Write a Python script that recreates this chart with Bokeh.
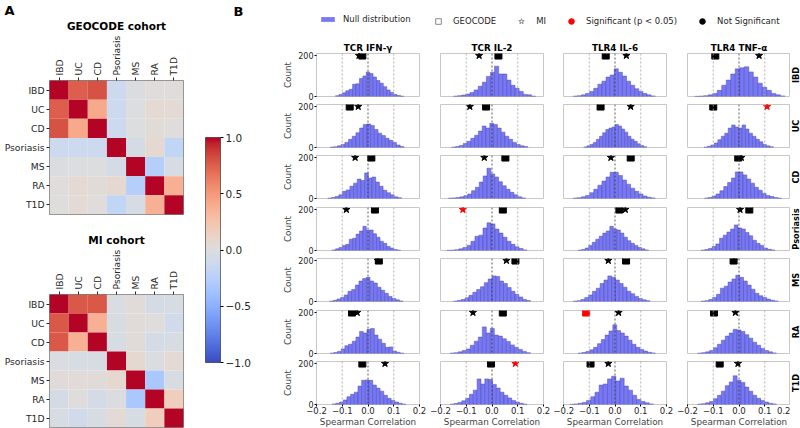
import math
import numpy as np
from bokeh.plotting import figure
from bokeh.layouts import row, column
from bokeh.models import (FactorRange, Range1d, LinearColorMapper, FixedTicker, Span, Label,
                          Legend, LegendItem, ColumnDataSource, Title)
from bokeh.embed import file_html
from bokeh.resources import INLINE

FONT = "DejaVu Sans"
INK = "#262626"

# ---------------------------------------------------------------- data
diseases = ["IBD", "UC", "CD", "Psoriasis", "MS", "RA", "T1D"]
stimuli = ["TCR IFN-γ", "TCR IL-2", "TLR4 IL-6", "TLR4 TNF-α"]

# genetic correlation between diseases, per cohort
geocode_corr = [
    [1.00, 0.75, 0.80, -0.12, -0.02, 0.01, 0.00],
    [0.75, 1.00, 0.42, -0.12, -0.01, 0.05, 0.04],
    [0.80, 0.42, 1.00, -0.12, -0.01, 0.03, 0.01],
    [-0.12, -0.12, -0.12, 1.00, -0.06, 0.07, -0.19],
    [-0.02, -0.01, -0.01, -0.06, 1.00, -0.27, -0.05],
    [0.01, 0.05, 0.03, 0.07, -0.27, 1.00, 0.38],
    [0.00, 0.04, 0.01, -0.19, -0.05, 0.38, 1.00],
]
mi_corr = [
    [1.00, 0.78, 0.78, -0.03, 0.02, -0.06, -0.04],
    [0.78, 1.00, 0.38, -0.04, 0.02, 0.00, -0.09],
    [0.78, 0.38, 1.00, -0.04, 0.02, -0.07, -0.04],
    [-0.03, -0.04, -0.04, 1.00, 0.07, -0.02, 0.04],
    [0.02, 0.02, 0.02, 0.07, 1.00, -0.33, -0.04],
    [-0.06, 0.00, -0.07, -0.02, -0.33, 1.00, 0.17],
    [-0.04, -0.09, -0.04, 0.04, -0.04, 0.17, 1.00],
]

# permutation null distributions: 20-bin counts and (low, high) bin range, one per disease
null_counts_tcr_ifng = [
    [4, 10, 18, 28, 35, 60, 62, 88, 100, 120, 112, 95, 78, 65, 48, 32, 20, 10, 5, 2],
    [2, 4, 8, 15, 25, 40, 55, 72, 95, 112, 115, 108, 88, 70, 58, 45, 35, 25, 12, 5],
    [2, 5, 10, 18, 35, 42, 60, 75, 95, 88, 125, 100, 105, 80, 60, 40, 28, 18, 8, 4],
    [3, 8, 15, 25, 30, 55, 60, 80, 95, 118, 100, 100, 82, 65, 45, 35, 20, 12, 5, 2],
    [2, 6, 12, 20, 32, 50, 58, 80, 100, 112, 118, 100, 90, 70, 55, 40, 25, 15, 8, 3],
    [2, 5, 10, 22, 38, 45, 60, 80, 108, 100, 118, 122, 90, 70, 50, 30, 32, 12, 6, 2],
    [3, 6, 12, 22, 38, 50, 60, 90, 118, 120, 118, 95, 80, 65, 45, 30, 20, 12, 6, 2],
]
null_range_tcr_ifng = [(-0.126, 0.139), (-0.147, 0.139), (-0.156, 0.130), (-0.139, 0.126),
                       (-0.149, 0.136), (-0.147, 0.139), (-0.139, 0.147)]

null_counts_tcr_il2 = [
    [2, 4, 7, 12, 20, 32, 50, 70, 98, 118, 148, 110, 110, 80, 55, 40, 25, 10, 8, 2],
    [2, 5, 10, 20, 30, 45, 60, 80, 105, 95, 118, 112, 95, 75, 55, 40, 25, 15, 8, 5],
    [2, 3, 5, 8, 14, 22, 38, 55, 80, 110, 148, 120, 105, 82, 62, 45, 30, 18, 8, 3],
    [1, 2, 4, 8, 15, 25, 45, 70, 75, 110, 135, 130, 105, 85, 65, 45, 30, 18, 10, 3],
    [2, 5, 10, 18, 30, 45, 58, 72, 92, 110, 125, 122, 100, 88, 68, 50, 35, 22, 10, 5],
    [2, 4, 8, 15, 22, 40, 60, 80, 130, 100, 122, 90, 85, 72, 58, 42, 30, 20, 10, 4],
    [2, 5, 10, 18, 30, 50, 70, 125, 100, 125, 122, 98, 80, 60, 45, 32, 20, 12, 6, 2],
]
null_range_tcr_il2 = [(-0.149, 0.169), (-0.156, 0.139), (-0.169, 0.130), (-0.175, 0.136),
                      (-0.149, 0.149), (-0.162, 0.149), (-0.162, 0.136)]

null_counts_tlr4_il6 = [
    [2, 4, 8, 15, 25, 40, 60, 75, 95, 105, 135, 118, 100, 75, 55, 38, 25, 15, 8, 3],
    [3, 8, 15, 25, 40, 55, 72, 88, 95, 100, 112, 105, 90, 75, 55, 40, 30, 18, 10, 4],
    [2, 4, 8, 15, 28, 45, 65, 85, 105, 128, 128, 112, 90, 70, 50, 35, 22, 12, 6, 3],
    [2, 5, 12, 25, 40, 55, 70, 85, 95, 118, 105, 100, 85, 65, 48, 35, 25, 15, 8, 3],
    [2, 4, 10, 20, 32, 50, 65, 88, 105, 125, 118, 105, 88, 70, 50, 38, 25, 15, 8, 4],
    [2, 5, 10, 18, 30, 48, 68, 90, 110, 140, 112, 100, 85, 65, 45, 30, 20, 12, 6, 3],
    [1, 3, 6, 10, 20, 38, 60, 95, 100, 125, 138, 115, 128, 90, 70, 45, 25, 15, 8, 3],
]
null_range_tlr4_il6 = [(-0.162, 0.156), (-0.121, 0.123), (-0.162, 0.156), (-0.143, 0.130),
                       (-0.162, 0.136), (-0.143, 0.156), (-0.175, 0.149)]

null_counts_tlr4_tnfa = [
    [1, 2, 4, 8, 15, 30, 55, 80, 110, 135, 140, 145, 120, 95, 65, 45, 30, 15, 8, 3],
    [2, 6, 12, 22, 38, 55, 70, 95, 110, 100, 95, 110, 90, 70, 55, 40, 28, 15, 8, 4],
    [2, 5, 12, 22, 38, 58, 78, 100, 130, 130, 115, 95, 75, 55, 40, 25, 15, 10, 5, 2],
    [2, 5, 10, 20, 32, 60, 75, 90, 105, 125, 110, 105, 88, 72, 50, 35, 25, 12, 6, 3],
    [2, 4, 10, 20, 35, 65, 75, 95, 110, 128, 118, 100, 80, 60, 40, 28, 20, 12, 6, 3],
    [2, 4, 8, 15, 28, 45, 65, 85, 100, 118, 115, 108, 92, 75, 55, 40, 25, 15, 8, 3],
    [2, 4, 8, 15, 28, 45, 65, 92, 110, 140, 118, 108, 85, 65, 45, 30, 20, 12, 6, 3],
]
null_range_tlr4_tnfa = [(-0.172, 0.178), (-0.136, 0.133), (-0.134, 0.165), (-0.147, 0.139),
                        (-0.147, 0.152), (-0.160, 0.145), (-0.160, 0.145)]

# observed Spearman correlations per cohort, and p < 0.05 flags
geocode_rho_tcr_ifng = [-0.022, -0.071, 0.013, 0.027, 0.042, -0.062, -0.022]
mi_rho_tcr_ifng = [-0.035, -0.038, -0.050, -0.084, 0.038, -0.042, 0.066]
geocode_sig_tcr_ifng = [False] * 7
mi_sig_tcr_ifng = [False] * 7

geocode_rho_tcr_il2 = [0.025, -0.023, 0.052, 0.042, 0.091, 0.042, -0.004]
mi_rho_tcr_il2 = [-0.050, -0.086, -0.030, -0.113, 0.056, -0.074, 0.091]
geocode_sig_tcr_il2 = [False] * 7
mi_sig_tcr_il2 = [False, False, False, True, False, False, True]

geocode_rho_tlr4_il6 = [-0.036, -0.056, 0.061, 0.017, 0.043, -0.112, -0.095]
mi_rho_tlr4_il6 = [0.044, 0.061, -0.016, 0.040, -0.026, 0.014, -0.026]
geocode_sig_tlr4_il6 = [False, False, False, False, False, True, False]
mi_sig_tlr4_il6 = [False] * 7

geocode_rho_tlr4_tnfa = [-0.092, -0.100, -0.003, 0.040, -0.021, -0.097, -0.075]
mi_rho_tlr4_tnfa = [0.078, 0.109, 0.009, 0.004, -0.020, -0.014, -0.004]
geocode_sig_tlr4_tnfa = [False] * 7
mi_sig_tlr4_tnfa = [False, True, False, False, False, False, False]

null_counts = [null_counts_tcr_ifng, null_counts_tcr_il2, null_counts_tlr4_il6, null_counts_tlr4_tnfa]
null_ranges = [null_range_tcr_ifng, null_range_tcr_il2, null_range_tlr4_il6, null_range_tlr4_tnfa]
geocode_rho = [geocode_rho_tcr_ifng, geocode_rho_tcr_il2, geocode_rho_tlr4_il6, geocode_rho_tlr4_tnfa]
mi_rho = [mi_rho_tcr_ifng, mi_rho_tcr_il2, mi_rho_tlr4_il6, mi_rho_tlr4_tnfa]
geocode_sig = [geocode_sig_tcr_ifng, geocode_sig_tcr_il2, geocode_sig_tlr4_il6, geocode_sig_tlr4_tnfa]
mi_sig = [mi_sig_tcr_ifng, mi_sig_tcr_il2, mi_sig_tlr4_il6, mi_sig_tlr4_tnfa]

# ---------------------------------------------------------------- colour map (coolwarm)
_coolwarm_anchors = [
    (59, 76, 192), (68, 90, 204), (77, 104, 215), (87, 117, 225), (98, 130, 234),
    (108, 142, 241), (119, 154, 247), (130, 165, 251), (141, 176, 254), (152, 185, 255),
    (163, 194, 255), (174, 201, 253), (184, 208, 249), (194, 213, 244), (204, 217, 238),
    (213, 219, 230), (221, 221, 221), (229, 216, 209), (236, 211, 197), (241, 204, 185),
    (245, 196, 173), (247, 187, 160), (247, 177, 148), (247, 166, 135), (244, 154, 123),
    (241, 141, 111), (236, 127, 99), (229, 112, 88), (222, 96, 77), (213, 80, 66),
    (203, 62, 56), (192, 40, 47), (180, 4, 38),
]


def coolwarm(n=256):
    a = np.array(_coolwarm_anchors, float)
    t = np.linspace(0, 1, len(a))
    s = np.linspace(0, 1, n)
    rgb = np.stack([np.interp(s, t, a[:, k]) for k in range(3)], axis=1)
    return ["#%02x%02x%02x" % tuple(int(round(v)) for v in c) for c in rgb]


mapper = LinearColorMapper(palette=coolwarm(), low=-1, high=1)


def bare(fig):
    fig.outline_line_color = None
    fig.grid.visible = False
    return fig


# ---------------------------------------------------------------- panel A: heatmaps
def heatmap(matrix, title, top, frame_h, bottom, letter=None):
    xs, ys, vals = [], [], []
    for i, r in enumerate(diseases):
        for j, c in enumerate(diseases):
            xs.append(c)
            ys.append(r)
            vals.append(matrix[i][j])
    src = ColumnDataSource(dict(x=xs, y=ys, v=vals))
    p = figure(x_range=FactorRange(*diseases), y_range=FactorRange(*diseases[::-1]),
               frame_width=134, frame_height=frame_h,
               min_border_left=49, min_border_right=12, min_border_top=top, min_border_bottom=bottom,
               x_axis_location="above", toolbar_location=None, output_backend="svg")
    p.rect(x="x", y="y", width=1, height=1, source=src,
           fill_color={"field": "v", "transform": mapper}, line_color=None)
    p.grid.visible = False
    p.outline_line_color = "#7f7f7f"
    p.outline_line_width = 1
    p.add_layout(Title(text=title, align="center", text_font=FONT, text_font_size="10.5px",
                       text_font_style="bold", text_color="black", standoff=1), "above")
    if letter:
        p.add_layout(Title(text=letter, align="left", offset=-45, text_font=FONT,
                           text_font_size="13px", text_font_style="bold", text_color="black",
                           standoff=0), "above")
    for ax in (p.xaxis[0], p.yaxis[0]):
        ax.axis_line_color = None
        ax.major_tick_out = 3
        ax.major_tick_in = 0
        ax.major_tick_line_color = INK
        ax.major_label_text_font = FONT
        ax.major_label_text_font_size = "9.2px"
        ax.major_label_text_color = INK
        ax.major_label_standoff = 2
    p.xaxis[0].major_label_orientation = math.pi / 2
    return p


h1 = heatmap(geocode_corr, "GEOCODE cohort", 78, 134, 3, letter="A")
h2 = heatmap(mi_corr, "MI cohort", 77, 133, 3)

# colour bar
cb = figure(x_range=Range1d(0, 1), y_range=Range1d(-1, 1), frame_width=15, frame_height=225,
            min_border_left=10, min_border_right=30, min_border_top=107, min_border_bottom=66,
            x_axis_location=None, y_axis_location="right", toolbar_location=None,
            output_backend="svg")
cb.image(image=[np.linspace(-1, 1, 256).reshape(256, 1)], x=0, y=-1, dw=1, dh=2,
         color_mapper=mapper)
cb.grid.visible = False
cb.outline_line_color = "#555555"
cb.yaxis.ticker = FixedTicker(ticks=[-1, -0.5, 0, 0.5, 1])
cb.yaxis.major_label_overrides = {-1: "−1.0", -0.5: "−0.5", 0: "0.0", 0.5: "0.5", 1: "1.0"}
cb.yaxis.axis_line_color = None
cb.yaxis.major_tick_out = 3
cb.yaxis.major_tick_in = 0
cb.yaxis.minor_tick_line_color = None
cb.yaxis.major_label_text_font = FONT
cb.yaxis.major_label_text_font_size = "10.5px"
cb.yaxis.major_label_text_color = INK
cb.yaxis.major_label_standoff = 2

# ---------------------------------------------------------------- panel B: header with legend
BAR_FILL = "#7878f4"
BAR_LINE = "#4d4db8"
NAN = [float("nan")]

hdr = bare(figure(x_range=Range1d(0, 1), y_range=Range1d(0, 1), frame_width=605, frame_height=30,
                  min_border=0, x_axis_type=None, y_axis_type=None, toolbar_location=None,
                  output_backend="svg"))
# screen-unit offsets are measured from the frame's bottom-left corner
hdr.add_layout(Label(x=38, y=27, x_units="screen", y_units="screen", text="B", text_font=FONT,
                     text_font_size="13px", text_font_style="bold", text_baseline="top",
                     text_color="black"))
r_null = hdr.quad(left=NAN, right=NAN, top=NAN, bottom=NAN, fill_color=BAR_FILL, line_color=None)
r_geo = hdr.scatter(x=NAN, y=NAN, marker="square", fill_color="white", line_color="#888888")
r_mi = hdr.scatter(x=NAN, y=NAN, marker="star", fill_color="white", line_color="#888888")
r_sig = hdr.scatter(x=NAN, y=NAN, marker="circle", fill_color="red", line_color="red")
r_ns = hdr.scatter(x=NAN, y=NAN, marker="circle", fill_color="black", line_color="black")


def legend(items, loc, gw, gh, standoff, spacing):
    lg = Legend(items=items, orientation="horizontal", location=loc, glyph_width=gw,
                glyph_height=gh, label_standoff=standoff, spacing=spacing, padding=0, margin=0,
                border_line_color=None, background_fill_alpha=0, label_height=10, label_width=0,
                label_text_font=FONT, label_text_font_size="8.5px", label_text_color=INK)
    hdr.add_layout(lg)


legend([LegendItem(label="Null distribution", renderers=[r_null])], (124, 6), 17, 6, 7, 0)
legend([LegendItem(label="GEOCODE", renderers=[r_geo]),
        LegendItem(label="MI", renderers=[r_mi]),
        LegendItem(label="Significant (p < 0.05)", renderers=[r_sig]),
        LegendItem(label="Not Significant", renderers=[r_ns])], (236, 2), 14, 14, 8, 18)

# ---------------------------------------------------------------- panel B: null histograms
col_left = [63, 11, 10, 11]
col_right = [10, 10, 10, 0]
row_top = [23, 3, 3, 3, 3, 3, 3]
row_bottom = [5, 5, 6, 5, 6, 5, 24]
FRAME_H = 43
STRIP_W = 13
MARK_Y = 200


def panel(ci, ri):
    first_row, last_row = ri == 0, ri == len(diseases) - 1
    p = figure(x_range=Range1d(-0.2, 0.2), y_range=Range1d(0, 210),
               frame_width=103, frame_height=FRAME_H,
               min_border_left=col_left[ci], min_border_right=col_right[ci],
               min_border_top=row_top[ri], min_border_bottom=row_bottom[ri],
               x_axis_location="below" if last_row else None,
               y_axis_location="left" if ci == 0 else None,
               toolbar_location=None, output_backend="svg",
               title=stimuli[ci] if first_row else None)
    p.grid.visible = False
    p.outline_line_color = "#c8c8c8"
    if first_row:
        p.title.text_font = FONT
        p.title.text_font_size = "8.8px"
        p.title.align = "center"
        p.title.standoff = 1
        p.title.text_color = "black"

    counts = null_counts[ci][ri]
    lo, hi = null_ranges[ci][ri]
    edges = np.linspace(lo, hi, len(counts) + 1)
    p.quad(left=edges[:-1], right=edges[1:], bottom=0, top=counts,
           fill_color=BAR_FILL, line_color=BAR_LINE, line_width=0.5)

    for loc, colr in ((-0.1, "#a0a0a0"), (0.0, "#333333"), (0.1, "#a0a0a0")):
        p.add_layout(Span(location=loc, dimension="height", line_color=colr,
                          line_dash="2 2", line_width=0.8))

    mi_c = "red" if mi_sig[ci][ri] else "black"
    geo_c = "red" if geocode_sig[ci][ri] else "black"
    p.scatter(x=[mi_rho[ci][ri]], y=[MARK_Y], marker="star", size=7.5, color=mi_c)
    p.scatter(x=[geocode_rho[ci][ri]], y=[MARK_Y], marker="square", size=7, color=geo_c)

    if ci == 0:
        ax = p.yaxis[0]
        ax.ticker = FixedTicker(ticks=[0, 200])
        ax.axis_label = "Count"
        ax.axis_label_text_font = FONT
        ax.axis_label_text_font_size = "8.8px"
        ax.axis_label_text_font_style = "normal"
        ax.axis_label_standoff = 2
        ax.axis_line_color = None
        ax.major_tick_out = 2
        ax.major_tick_in = 0
        ax.minor_tick_line_color = None
        ax.major_label_text_font = FONT
        ax.major_label_text_font_size = "8px"
        ax.major_label_text_color = INK
        ax.major_label_standoff = 1
    if last_row:
        ax = p.xaxis[0]
        ax.ticker = FixedTicker(ticks=[-0.2, -0.1, 0, 0.1, 0.2])
        ax.major_label_overrides = {-0.2: "−0.2", -0.1: "−0.1", 0: "0.0", 0.1: "0.1", 0.2: "0.2"}
        ax.axis_label = "Spearman Correlation"
        ax.axis_label_text_font = FONT
        ax.axis_label_text_font_size = "8.8px"
        ax.axis_label_text_font_style = "normal"
        ax.axis_label_standoff = 0
        ax.axis_line_color = None
        ax.major_tick_out = 2
        ax.major_tick_in = 0
        ax.minor_tick_line_color = None
        ax.major_label_text_font = FONT
        ax.major_label_text_font_size = "8.5px"
        ax.major_label_text_color = INK
        ax.major_label_standoff = 0
    return p


def row_label(ri):
    # narrow strip right of the last column carrying the disease name, read bottom-to-top
    q = bare(figure(x_range=Range1d(0, 1), y_range=Range1d(0, 1), frame_width=STRIP_W,
                    frame_height=FRAME_H, min_border_left=0, min_border_right=0,
                    min_border_top=row_top[ri], min_border_bottom=row_bottom[ri],
                    x_axis_type=None, y_axis_type=None, toolbar_location=None,
                    output_backend="svg"))
    q.add_layout(Label(x=5.5, y=FRAME_H / 2, x_units="screen", y_units="screen",
                       text=diseases[ri], angle=math.pi / 2, text_align="center",
                       text_baseline="middle", text_font=FONT, text_font_size="8.2px",
                       text_font_style="bold", text_color="black"))
    return q


grid_rows = [row(*[panel(ci, ri) for ci in range(len(stimuli))], row_label(ri))
             for ri in range(len(diseases))]
panel_b = column(hdr, row(cb, column(*grid_rows)))
panel_a = column(h1, h2)
layout = row(panel_a, panel_b)

open("out.html", "w").write(file_html(layout, INLINE))
